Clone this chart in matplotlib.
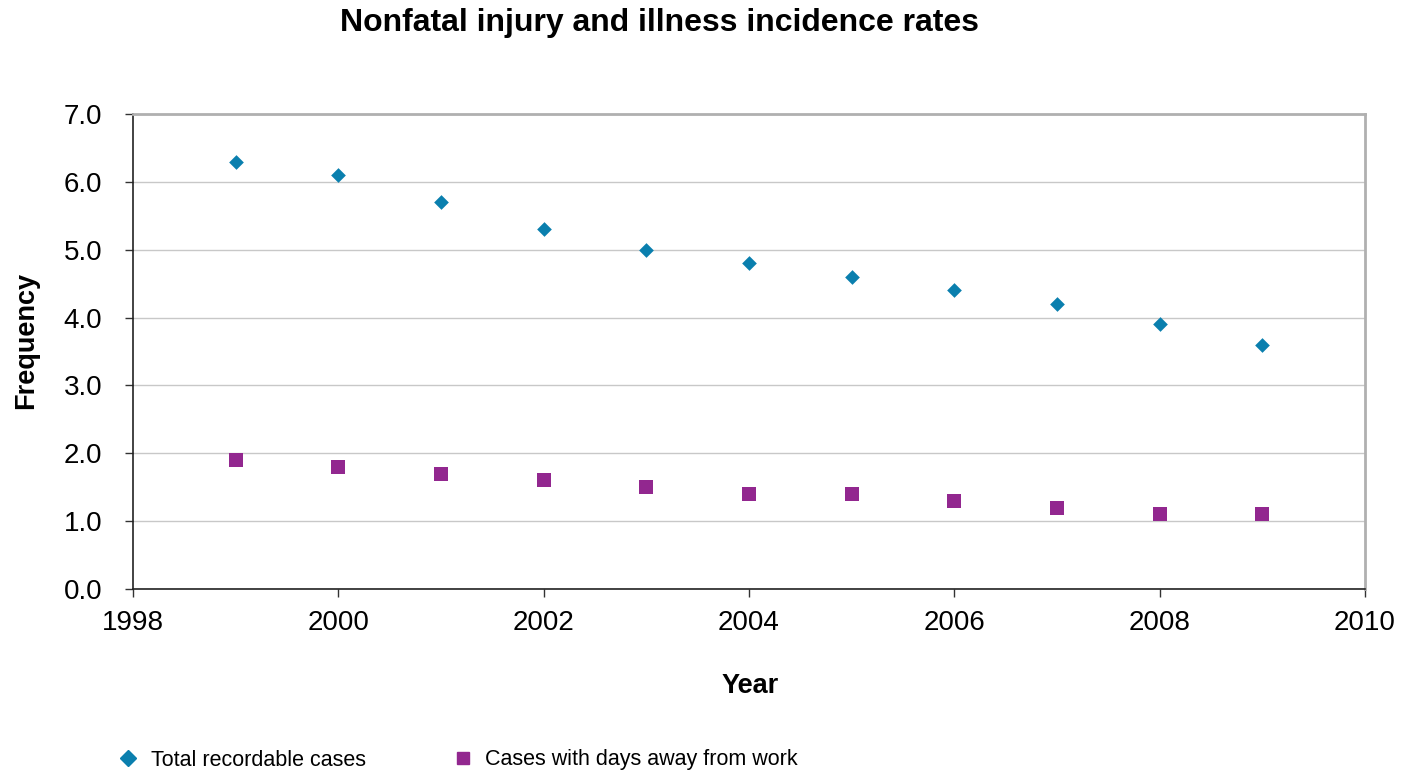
import matplotlib.pyplot as plt
from matplotlib.lines import Line2D

plt.rcParams['font.family'] = ['Liberation Sans', 'DejaVu Sans']

# data
years = [1999, 2000, 2001, 2002, 2003, 2004, 2005, 2006, 2007, 2008, 2009]
total_cases = [6.3, 6.1, 5.7, 5.3, 5.0, 4.8, 4.6, 4.4, 4.2, 3.9, 3.6]
days_away = [1.9, 1.8, 1.7, 1.6, 1.5, 1.4, 1.4, 1.3, 1.2, 1.1, 1.1]
xticks = [1998, 2000, 2002, 2004, 2006, 2008, 2010]
yticks = [0, 1, 2, 3, 4, 5, 6, 7]

blue = '#0A7FAE'
purple = '#92278F'

fig = plt.figure(figsize=(14.01, 7.73), dpi=100)
ax = fig.add_axes([133/1401, 1 - 589/773, (1365-133)/1401, (589-114)/773])

ax.scatter(years, total_cases, marker='D', s=56, color=blue, zorder=3, linewidths=0)
ax.scatter(years, days_away, marker='s', s=104, color=purple, zorder=3, linewidths=0)

ax.set_xlim(1998, 2010)
ax.set_ylim(0, 7)
ax.set_xticks(xticks)
ax.set_yticks(yticks)
ax.set_yticklabels([f'{v:.1f}' for v in yticks])
ax.tick_params(labelsize=20, direction='out', length=6, width=1, color='#333333')
ax.tick_params(axis='x', pad=9)
ax.tick_params(axis='y', pad=16)

ax.grid(axis='y', color='#C8C8C8', linewidth=1)
ax.set_axisbelow(True)
for s in ['top', 'right']:
    ax.spines[s].set_color('#B0B0B0')
    ax.spines[s].set_linewidth(2)
for s in ['left', 'bottom']:
    ax.spines[s].set_color('#222222')
    ax.spines[s].set_linewidth(1.2)

fig.text(659/1401, 1 - 23/773, 'Nonfatal injury and illness incidence rates',
         ha='center', va='center', fontsize=23, fontweight='bold')
fig.text(750/1401, 1 - 686/773, 'Year', ha='center', va='center',
         fontsize=19.5, fontweight='bold')
fig.text(26/1401, 1 - 340/773, 'Frequency', ha='center', va='center',
         fontsize=19.5, fontweight='bold', rotation=90)

# legend
handles = [Line2D([], [], marker='D', linestyle='none', color=blue, markersize=8),
           Line2D([], [], marker='s', linestyle='none', color=purple, markersize=8.6)]
labels = ['Total recordable cases', 'Cases with days away from work']
fig.legend(handles, labels, loc='center left', bbox_to_anchor=(98/1401, 1 - 760/773),
           ncol=2, frameon=False, fontsize=15.5, columnspacing=4.0, handletextpad=0.55,
           handlelength=1.0)

fig.savefig('out.png', dpi=100)
